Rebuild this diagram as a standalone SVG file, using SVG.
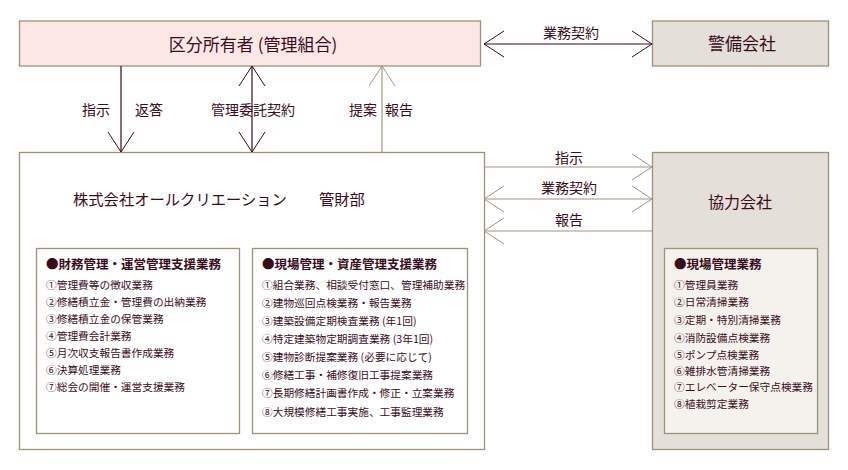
<svg xmlns="http://www.w3.org/2000/svg" width="848" height="470" viewBox="0 0 848 470">
<style>
text{font-family:"Noto Sans CJK JP","Noto Sans",sans-serif;fill:#3a0d1c}
.box{stroke:#9d9279;stroke-width:1.3}
.lbl{font-size:14px;text-anchor:middle}
.ttl{font-size:12.5px;font-weight:bold}
.it{font-size:10.7px}
.dk{stroke:#3b0a16;stroke-width:1.2;fill:none}
.tn{stroke:#a09680;stroke-width:1.2;fill:none}
</style>
<defs>
<marker id="ad" viewBox="-21 -14 22 28" refX="0" refY="0" markerWidth="22" markerHeight="28" markerUnits="userSpaceOnUse" orient="auto-start-reverse"><path d="M-20,-13 L0,0 L-20,13" fill="none" stroke="#3b0a16" stroke-width="1"/></marker>
<marker id="at" viewBox="-21 -14 22 28" refX="0" refY="0" markerWidth="22" markerHeight="28" markerUnits="userSpaceOnUse" orient="auto-start-reverse"><path d="M-20,-13 L0,0 L-20,13" fill="none" stroke="#a09680" stroke-width="1"/></marker>
</defs>
<rect width="848" height="470" fill="#fff"/>
<g id="owners">
<rect class="box" x="19.5" y="21" width="461" height="45" fill="#fbe7e6"/>
<text x="253" y="51" font-size="17" text-anchor="middle">区分所有者 (管理組合)</text>
</g>
<g id="security">
<rect class="box" x="652.5" y="21" width="176" height="45" fill="#e4dfd9"/>
<text x="742" y="50" font-size="17" text-anchor="middle">警備会社</text>
</g>
<g id="company">
<rect class="box" x="19.5" y="152.5" width="465" height="297" fill="#fff"/>
<text x="73" y="205" font-size="15.3">株式会社オールクリエーション</text>
<text x="319" y="205" font-size="15.3">管財部</text>
</g>
<g id="finance">
<rect class="box" x="36.5" y="248.5" width="203" height="185" fill="#fff"/>
<text class="ttl" x="46" y="269">●財務管理・運営管理支援業務</text>
<text class="it" x="46" y="289">①管理費等の徴収業務</text>
<text class="it" x="46" y="306">②修繕積立金・管理費の出納業務</text>
<text class="it" x="46" y="323">③修繕積立金の保管業務</text>
<text class="it" x="46" y="340">④管理費会計業務</text>
<text class="it" x="46" y="357">⑤月次収支報告書作成業務</text>
<text class="it" x="46" y="374">⑥決算処理業務</text>
<text class="it" x="46" y="391">⑦総会の開催・運営支援業務</text>
</g>
<g id="site-asset">
<rect class="box" x="252.5" y="248.5" width="215" height="185" fill="#fff"/>
<text class="ttl" x="262" y="269">●現場管理・資産管理支援業務</text>
<text class="it" x="262" y="289">①組合業務、相談受付窓口、管理補助業務</text>
<text class="it" x="262" y="307">②建物巡回点検業務・報告業務</text>
<text class="it" x="262" y="325">③建築設備定期検査業務 (年1回)</text>
<text class="it" x="262" y="343">④特定建築物定期調査業務 (3年1回)</text>
<text class="it" x="262" y="361">⑤建物診断提案業務 (必要に応じて)</text>
<text class="it" x="262" y="379">⑥修繕工事・補修復旧工事提案業務</text>
<text class="it" x="262" y="397">⑦長期修繕計画書作成・修正・立案業務</text>
<text class="it" x="262" y="416">⑧大規模修繕工事実施、工事監理業務</text>
</g>
<g id="partner">
<rect class="box" x="652.5" y="152.5" width="176" height="297" fill="#e4dfd9"/>
<text x="740" y="208" font-size="16" text-anchor="middle">協力会社</text>
<rect class="box" x="664.5" y="248.5" width="153" height="185" fill="#f5f2ee"/>
<text class="ttl" x="674" y="269">●現場管理業務</text>
<text class="it" x="674" y="289">①管理員業務</text>
<text class="it" x="674" y="306">②日常清掃業務</text>
<text class="it" x="674" y="324">③定期・特別清掃業務</text>
<text class="it" x="674" y="342">④消防設備点検業務</text>
<text class="it" x="674" y="359">⑤ポンプ点検業務</text>
<text class="it" x="674" y="375">⑥雑排水管清掃業務</text>
<text class="it" x="674" y="391">⑦エレベーター保守点検業務</text>
<text class="it" x="674" y="408">⑧植栽剪定業務</text>
</g>
<g id="connectors">
<line class="dk" x1="484" y1="44" x2="652" y2="44" marker-start="url(#ad)" marker-end="url(#ad)"/>
<line class="dk" x1="121" y1="66" x2="121" y2="152" marker-end="url(#ad)"/>
<line class="dk" x1="252" y1="66" x2="252" y2="152" marker-start="url(#ad)" marker-end="url(#ad)"/>
<line class="tn" x1="382" y1="152" x2="382" y2="66" marker-end="url(#at)"/>
<line class="tn" x1="484" y1="167" x2="652" y2="167" marker-end="url(#at)"/>
<line class="tn" x1="484" y1="199" x2="652" y2="199" marker-start="url(#at)" marker-end="url(#at)"/>
<line class="tn" x1="652" y1="231" x2="484" y2="231" marker-end="url(#at)"/>
</g>
<g id="labels">
<text class="lbl" x="571" y="38">業務契約</text>
<text class="lbl" x="96" y="115">指示</text>
<text class="lbl" x="149" y="115">返答</text>
<text class="lbl" x="253" y="115">管理委託契約</text>
<text class="lbl" x="363" y="115">提案</text>
<text class="lbl" x="399" y="115">報告</text>
<text class="lbl" x="569" y="163">指示</text>
<text class="lbl" x="569" y="193">業務契約</text>
<text class="lbl" x="569" y="225">報告</text>
</g>
</svg>
